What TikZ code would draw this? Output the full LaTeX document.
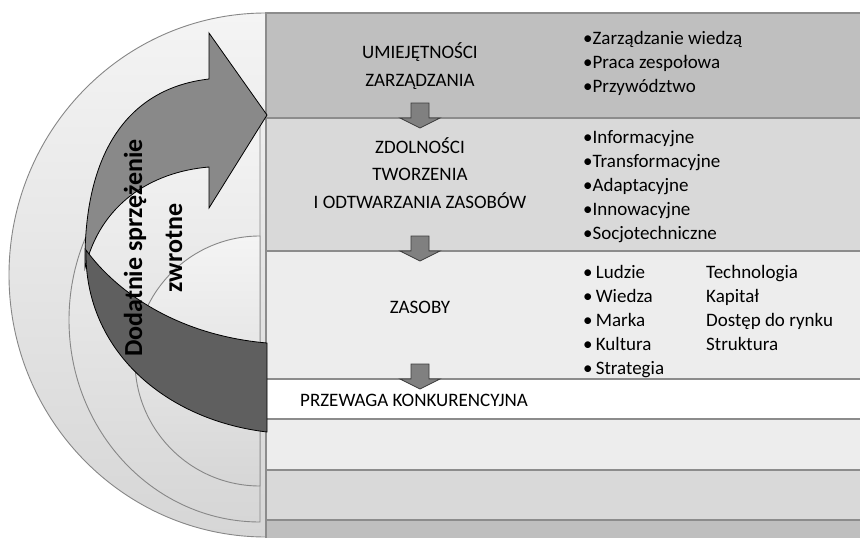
\documentclass[tikz,border=0pt]{standalone}
\usepackage{fontspec}
\setmainfont{Carlito}
\definecolor{bandA}{RGB}{191,191,191}
\definecolor{bandB}{RGB}{217,217,217}
\definecolor{bandC}{RGB}{237,237,237}
\definecolor{bandline}{RGB}{140,140,140}
\definecolor{diskedge}{RGB}{135,135,135}
\definecolor{diskTop}{RGB}{244,244,244}
\definecolor{diskBot}{RGB}{214,214,214}
\definecolor{arrowMid}{RGB}{137,137,137}
\definecolor{arrowDark}{RGB}{95,95,95}
\definecolor{smallfill}{RGB}{128,128,128}
\definecolor{smalledge}{RGB}{60,60,60}
\begin{document}
\begin{tikzpicture}[x=1pt,y=-1pt,
  bandbox/.style={draw=bandline, line width=1.5pt},
  disk/.style={draw=diskedge, line width=0.9pt, top color=diskTop, bottom color=diskBot},
  lbl/.style={font=\fontsize{19}{28}\selectfont, align=center, inner sep=0pt},
  blist/.style={font=\fontsize{19}{24}\selectfont, align=left, anchor=north west, inner sep=0pt},
  smallarrow/.style={fill=smallfill, draw=smalledge, line width=0.8pt},
  ribbon/.style={draw=black, line width=0.8pt}
]
\useasboundingbox (0,0) rectangle (860,538);
\clip (0,0) rectangle (860,538);
\fill[white] (0,0) rectangle (860,538);

% nested half discs
\path[disk] (266,13) arc[start angle=90, end angle=270, x radius=257pt, y radius=262pt] -- cycle;
\path[disk] (260,118) arc[start angle=90, end angle=270, x radius=191pt, y radius=202pt] -- cycle;
\path[disk] (260,236) arc[start angle=90, end angle=270, x radius=125pt, y radius=125pt] -- cycle;

% bands
\path[bandbox, fill=bandA] (266,13) rectangle (870,118);
\path[bandbox, fill=bandB] (266,118) rectangle (870,251);
\path[bandbox, fill=bandC] (266,251) rectangle (870,379);
\path[bandbox, fill=white] (266,379) rectangle (870,419);
\path[bandbox, fill=bandC] (266,419) rectangle (870,470);
\path[bandbox, fill=bandB] (266,470) rectangle (870,520);
\path[bandbox, fill=bandA] (266,520) rectangle (870,560);

% big curved arrow (upper, lighter part)
\path[ribbon, fill=arrowMid] (85,268) .. controls (83,150) and (130,88) .. (209,79)
  -- (209,33) -- (267,115) -- (209,208) -- (209,167)
  .. controls (150,172) and (100,205) .. (85,268) -- cycle;
% lower, darker part
\path[ribbon, fill=arrowDark] (86,250) .. controls (84,350) and (165,420) .. (267,432)
  -- (267,343) .. controls (175,335) and (115,290) .. (86,250) -- cycle;

\node[rotate=90, align=center, inner sep=0pt, font=\fontsize{26}{40}\selectfont\bfseries] (fb) at (153,248) {Dodatnie sprzężenie\\zwrotne};

% small down arrows
\coordinate (d1) at (420,118);
\coordinate (d2) at (420,251);
\coordinate (d3) at (420,379);
\foreach \d in {d1,d2,d3}{
  \path[smallarrow] ([shift={(-9,-15)}]\d) -- ([shift={(9,-15)}]\d) -- ([shift={(9,0)}]\d)
    -- ([shift={(20,0)}]\d) -- ([shift={(0,10)}]\d) -- ([shift={(-20,0)}]\d)
    -- ([shift={(-9,0)}]\d) -- cycle;
}

% texts
\node[lbl] (um) at (420,66) {UMIEJĘTNOŚCI\\ZARZĄDZANIA};
\node[blist] (umlist) at (583,31) {•Zarządzanie wiedzą\\•Praca zespołowa\\•Przywództwo};
\node[lbl, font=\fontsize{19}{27.5}\selectfont] (zd) at (420,173) {ZDOLNOŚCI\\TWORZENIA\\I ODTWARZANIA ZASOBÓW};
\node[blist] (zdlist) at (583,130) {•Informacyjne\\•Transformacyjne\\•Adaptacyjne\\•Innowacyjne\\•Socjotechniczne};
\node[lbl] (zas) at (420,307) {ZASOBY};
\node[blist] (zaslist) at (583,265) {•\,Ludzie\\•\,Wiedza\\•\,Marka\\•\,Kultura\\•\,Strategia};
\node[blist] (zaslist2) at (706,265) {Technologia\\Kapitał\\Dostęp do rynku\\Struktura};
\node[lbl, anchor=west] (prz) at (300,400) {PRZEWAGA KONKURENCYJNA};
\end{tikzpicture}
\end{document}
